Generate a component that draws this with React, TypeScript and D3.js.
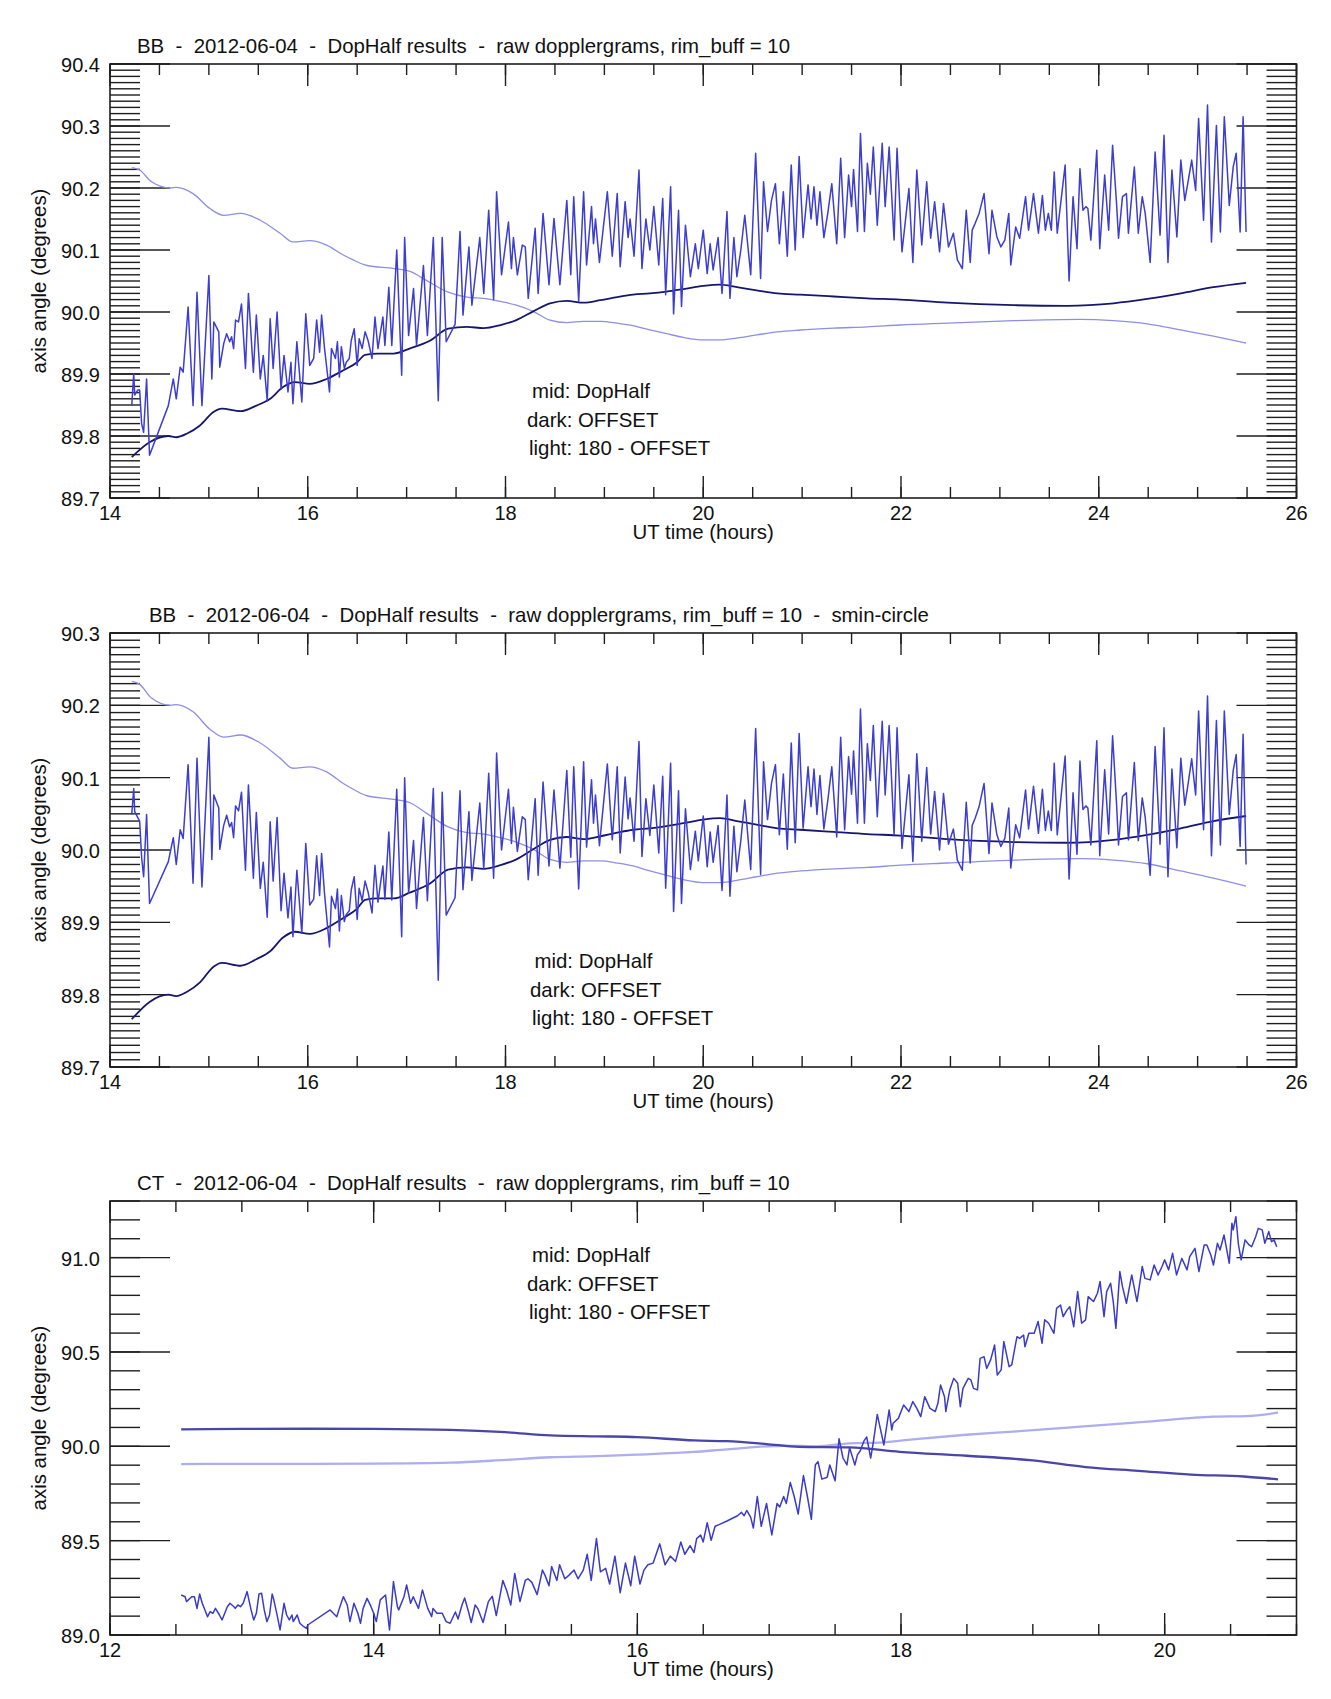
import React from 'react';
import * as d3 from 'd3';

type Pt = [number, number];

// BB, DopHalf (mid) - raw dopplergrams, rim_buff = 10
const bbMid: Pt[] = [
  [14.22, 89.849], [14.24, 89.9], [14.25, 89.866], [14.28, 89.874], [14.3, 89.874], [14.32, 89.82], [14.34, 89.806], [14.37, 89.892], [14.4, 89.769],
  [14.59, 89.849], [14.64, 89.892], [14.67, 89.86], [14.71, 89.911], [14.74, 89.903], [14.79, 90.008], [14.84, 89.849], [14.88, 90.032], [14.93, 89.849],
  [15.0, 90.059], [15.03, 89.892], [15.05, 89.984], [15.1, 89.968], [15.11, 89.911], [15.15, 89.949], [15.18, 89.965], [15.21, 89.952], [15.23, 89.96],
  [15.25, 89.941], [15.27, 89.987], [15.3, 89.984], [15.33, 90.013], [15.37, 89.909], [15.4, 90.03], [15.45, 89.903], [15.48, 89.995], [15.52, 89.892],
  [15.55, 89.93], [15.59, 89.857], [15.62, 89.989], [15.65, 89.909], [15.69, 90.0], [15.73, 89.876], [15.76, 89.93], [15.8, 89.871], [15.83, 89.919],
  [15.85, 89.852], [15.89, 89.952], [15.94, 89.855], [15.98, 89.997], [16.02, 89.914], [16.06, 89.925], [16.09, 89.987], [16.12, 89.935], [16.14, 89.995],
  [16.17, 89.941], [16.22, 89.871], [16.24, 89.941], [16.28, 89.925], [16.3, 89.952], [16.32, 89.895], [16.34, 89.944], [16.37, 89.909], [16.39, 89.919],
  [16.42, 89.925], [16.44, 89.954], [16.47, 89.973], [16.5, 89.914], [16.52, 89.957], [16.55, 89.941], [16.58, 89.968], [16.61, 89.954], [16.65, 89.925],
  [16.68, 89.992], [16.71, 89.941], [16.76, 89.992], [16.78, 89.946], [16.82, 90.04], [16.85, 89.946], [16.9, 90.1], [16.95, 89.898], [16.98, 90.12],
  [17.02, 89.962], [17.07, 90.038], [17.1, 89.946], [17.17, 90.075], [17.21, 89.962], [17.27, 90.12], [17.32, 89.857], [17.36, 90.12], [17.4, 89.952],
  [17.49, 89.98], [17.54, 90.13], [17.57, 89.995], [17.63, 90.105], [17.66, 90.011], [17.74, 90.12], [17.78, 90.03], [17.83, 90.164], [17.88, 90.02],
  [17.91, 90.194], [17.96, 90.06], [18.03, 90.145], [18.06, 90.07], [18.08, 90.12], [18.12, 90.06], [18.17, 90.108], [18.2, 90.105], [18.23, 90.022],
  [18.3, 90.135], [18.33, 90.03], [18.38, 90.159], [18.44, 90.044], [18.49, 90.151], [18.55, 90.044], [18.62, 90.18], [18.66, 90.06], [18.69, 90.186],
  [18.74, 90.017], [18.79, 90.194], [18.82, 90.076], [18.87, 90.17], [18.89, 90.11], [18.91, 90.15], [18.95, 90.08], [19.03, 90.194], [19.08, 90.09],
  [19.13, 90.191], [19.16, 90.073], [19.21, 90.178], [19.24, 90.12], [19.26, 90.15], [19.3, 90.09], [19.35, 90.229], [19.38, 90.07], [19.42, 90.15],
  [19.46, 90.1], [19.5, 90.17], [19.55, 90.076], [19.59, 90.183], [19.62, 90.028], [19.67, 90.202], [19.7, 89.997], [19.75, 90.164], [19.78, 90.009],
  [19.82, 90.14], [19.87, 90.057], [19.92, 90.11], [19.95, 90.07], [20.0, 90.132], [20.04, 90.062], [20.07, 90.11], [20.1, 90.068], [20.15, 90.12],
  [20.19, 90.03], [20.24, 90.162], [20.27, 90.022], [20.31, 90.12], [20.34, 90.057], [20.38, 90.1], [20.42, 90.156], [20.48, 90.06], [20.53, 90.256],
  [20.58, 90.054], [20.61, 90.21], [20.65, 90.13], [20.69, 90.18], [20.73, 90.207], [20.77, 90.11], [20.81, 90.194], [20.85, 90.09], [20.89, 90.237],
  [20.93, 90.1], [20.97, 90.251], [21.01, 90.12], [21.06, 90.205], [21.09, 90.15], [21.12, 90.202], [21.15, 90.14], [21.18, 90.194], [21.22, 90.12],
  [21.26, 90.16], [21.3, 90.207], [21.35, 90.11], [21.39, 90.248], [21.43, 90.12], [21.47, 90.221], [21.5, 90.17], [21.52, 90.23], [21.56, 90.13],
  [21.59, 90.288], [21.63, 90.13], [21.66, 90.24], [21.69, 90.19], [21.72, 90.266], [21.76, 90.14], [21.81, 90.272], [21.84, 90.17], [21.88, 90.266],
  [21.93, 90.116], [21.96, 90.264], [22.01, 90.097], [22.08, 90.199], [22.12, 90.08], [22.16, 90.229], [22.21, 90.108], [22.26, 90.21], [22.3, 90.119],
  [22.34, 90.178], [22.39, 90.097], [22.43, 90.175], [22.48, 90.105], [22.53, 90.127], [22.57, 90.084], [22.62, 90.07], [22.66, 90.164], [22.7, 90.08],
  [22.72, 90.132], [22.75, 90.143], [22.79, 90.159], [22.84, 90.191], [22.89, 90.094], [22.92, 90.164], [22.97, 90.121], [23.01, 90.105], [23.05, 90.116],
  [23.09, 90.159], [23.11, 90.076], [23.16, 90.137], [23.2, 90.119], [23.26, 90.186], [23.29, 90.132], [23.34, 90.191], [23.39, 90.127], [23.43, 90.188],
  [23.46, 90.132], [23.49, 90.159], [23.52, 90.132], [23.55, 90.226], [23.58, 90.127], [23.66, 90.237], [23.7, 90.05], [23.74, 90.186], [23.78, 90.102],
  [23.81, 90.231], [23.84, 90.164], [23.87, 90.17], [23.89, 90.167], [23.92, 90.116], [23.98, 90.261], [24.01, 90.102], [24.06, 90.221], [24.1, 90.132],
  [24.14, 90.269], [24.18, 90.175], [24.2, 90.119], [24.24, 90.186], [24.28, 90.191], [24.3, 90.127], [24.36, 90.234], [24.4, 90.127], [24.44, 90.186],
  [24.47, 90.159], [24.52, 90.08], [24.57, 90.258], [24.62, 90.124], [24.66, 90.285], [24.7, 90.08], [24.74, 90.229], [24.79, 90.121], [24.83, 90.245],
  [24.87, 90.18], [24.9, 90.207], [24.94, 90.245], [24.98, 90.196], [25.01, 90.312], [25.06, 90.148], [25.1, 90.334], [25.14, 90.113], [25.19, 90.301],
  [25.23, 90.129], [25.27, 90.315], [25.32, 90.172], [25.36, 90.234], [25.39, 90.256], [25.43, 90.129], [25.46, 90.315], [25.49, 90.129],
];

// BB, DopHalf (mid) - smin-circle
const bbSminMid: Pt[] = [
  [14.22, 90.049], [14.24, 90.085], [14.25, 90.053], [14.28, 90.045], [14.3, 90.04], [14.32, 89.99], [14.34, 89.963], [14.37, 90.049], [14.4, 89.926],
  [14.59, 89.984], [14.64, 90.017], [14.67, 89.98], [14.71, 90.028], [14.74, 90.016], [14.79, 90.118], [14.84, 89.954], [14.88, 90.127], [14.93, 89.949],
  [15.0, 90.156], [15.03, 89.987], [15.05, 90.076], [15.1, 90.058], [15.11, 90.001], [15.15, 90.034], [15.18, 90.048], [15.21, 90.032], [15.23, 90.038],
  [15.25, 90.017], [15.27, 90.061], [15.3, 90.054], [15.33, 90.08], [15.37, 89.972], [15.4, 90.09], [15.45, 89.961], [15.48, 90.052], [15.52, 89.947],
  [15.55, 89.983], [15.59, 89.907], [15.62, 90.039], [15.65, 89.957], [15.69, 90.045], [15.73, 89.916], [15.76, 89.968], [15.8, 89.906], [15.83, 89.949],
  [15.85, 89.88], [15.89, 89.972], [15.94, 89.885], [15.98, 90.009], [16.02, 89.924], [16.06, 89.932], [16.09, 89.992], [16.12, 89.937], [16.14, 89.995],
  [16.17, 89.939], [16.22, 89.866], [16.24, 89.936], [16.28, 89.919], [16.3, 89.946], [16.32, 89.888], [16.34, 89.937], [16.37, 89.901], [16.39, 89.911],
  [16.42, 89.916], [16.44, 89.945], [16.47, 89.963], [16.5, 89.904], [16.52, 89.947], [16.55, 89.93], [16.58, 89.957], [16.61, 89.942], [16.65, 89.913],
  [16.68, 89.979], [16.71, 89.928], [16.76, 89.978], [16.78, 89.932], [16.82, 90.025], [16.85, 89.931], [16.9, 90.084], [16.95, 89.88], [16.98, 90.1],
  [17.02, 89.94], [17.07, 90.013], [17.1, 89.919], [17.17, 90.045], [17.21, 89.93], [17.27, 90.085], [17.32, 89.82], [17.36, 90.08], [17.4, 89.91],
  [17.49, 89.934], [17.54, 90.082], [17.57, 89.945], [17.63, 90.053], [17.66, 89.958], [17.74, 90.065], [17.78, 89.974], [17.83, 90.106], [17.88, 89.961],
  [17.91, 90.134], [17.96, 90.0], [18.03, 90.084], [18.06, 90.009], [18.08, 90.059], [18.12, 89.998], [18.17, 90.046], [18.2, 90.042], [18.23, 89.959],
  [18.3, 90.071], [18.33, 89.965], [18.38, 90.094], [18.44, 89.978], [18.49, 90.083], [18.55, 89.975], [18.62, 90.11], [18.66, 89.99], [18.69, 90.115],
  [18.74, 89.946], [18.79, 90.122], [18.82, 90.004], [18.87, 90.097], [18.89, 90.037], [18.91, 90.076], [18.95, 90.006], [19.03, 90.119], [19.08, 90.014],
  [19.13, 90.115], [19.16, 89.996], [19.21, 90.101], [19.24, 90.043], [19.26, 90.072], [19.3, 90.012], [19.35, 90.15], [19.38, 89.991], [19.42, 90.071],
  [19.46, 90.02], [19.5, 90.09], [19.55, 89.996], [19.59, 90.102], [19.62, 89.947], [19.67, 90.12], [19.7, 89.915], [19.75, 90.082], [19.78, 89.926],
  [19.82, 90.057], [19.87, 89.973], [19.92, 90.026], [19.95, 89.985], [20.0, 90.047], [20.04, 89.977], [20.07, 90.025], [20.1, 89.983], [20.15, 90.034],
  [20.19, 89.944], [20.24, 90.076], [20.27, 89.936], [20.31, 90.033], [20.34, 89.97], [20.38, 90.013], [20.42, 90.069], [20.48, 89.973], [20.53, 90.168],
  [20.58, 89.966], [20.61, 90.122], [20.65, 90.042], [20.69, 90.092], [20.73, 90.118], [20.77, 90.021], [20.81, 90.105], [20.85, 90.001], [20.89, 90.148],
  [20.93, 90.01], [20.97, 90.161], [21.01, 90.03], [21.06, 90.115], [21.09, 90.06], [21.12, 90.112], [21.15, 90.049], [21.18, 90.103], [21.22, 90.029],
  [21.26, 90.069], [21.3, 90.115], [21.35, 90.018], [21.39, 90.156], [21.43, 90.028], [21.47, 90.129], [21.5, 90.077], [21.52, 90.137], [21.56, 90.037],
  [21.59, 90.195], [21.63, 90.037], [21.66, 90.147], [21.69, 90.096], [21.72, 90.172], [21.76, 90.046], [21.81, 90.178], [21.84, 90.076], [21.88, 90.172],
  [21.93, 90.021], [21.96, 90.169], [22.01, 90.002], [22.08, 90.104], [22.12, 89.984], [22.16, 90.133], [22.21, 90.012], [22.26, 90.114], [22.3, 90.022],
  [22.34, 90.081], [22.39, 90.0], [22.43, 90.078], [22.48, 90.008], [22.53, 90.029], [22.57, 89.986], [22.62, 89.972], [22.66, 90.066], [22.7, 89.982],
  [22.72, 90.034], [22.75, 90.044], [22.79, 90.06], [22.84, 90.092], [22.89, 89.995], [22.92, 90.065], [22.97, 90.021], [23.01, 90.005], [23.05, 90.016],
  [23.09, 90.058], [23.11, 89.975], [23.16, 90.035], [23.2, 90.017], [23.26, 90.083], [23.29, 90.029], [23.34, 90.088], [23.39, 90.023], [23.43, 90.084],
  [23.46, 90.027], [23.49, 90.054], [23.52, 90.027], [23.55, 90.12], [23.58, 90.021], [23.66, 90.13], [23.7, 89.96], [23.74, 90.079], [23.78, 89.994],
  [23.81, 90.123], [23.84, 90.056], [23.87, 90.061], [23.89, 90.058], [23.92, 90.007], [23.98, 90.151], [24.01, 89.992], [24.06, 90.111], [24.1, 90.022],
  [24.14, 90.158], [24.18, 90.064], [24.2, 90.007], [24.24, 90.074], [24.28, 90.079], [24.3, 90.014], [24.36, 90.121], [24.4, 90.013], [24.44, 90.072],
  [24.47, 90.045], [24.52, 89.965], [24.57, 90.143], [24.62, 90.008], [24.66, 90.169], [24.7, 89.963], [24.74, 90.112], [24.79, 90.003], [24.83, 90.127],
  [24.87, 90.062], [24.9, 90.088], [24.94, 90.126], [24.98, 90.076], [25.01, 90.192], [25.06, 90.028], [25.1, 90.213], [25.14, 89.992], [25.19, 90.179],
  [25.23, 90.007], [25.27, 90.192], [25.32, 90.049], [25.36, 90.11], [25.39, 90.132], [25.43, 90.005], [25.46, 90.16], [25.49, 89.98],
];

// BB OFFSET (dark) and 180 - OFFSET (light)
const bbOffset: Pt[] = [
  [14.22, 89.766], [14.4, 89.79], [14.59, 89.8], [14.67, 89.798], [14.78, 89.804], [14.91, 89.817], [15.05, 89.839], [15.13, 89.844], [15.32, 89.84],
  [15.48, 89.849], [15.62, 89.86], [15.75, 89.879], [15.87, 89.887], [16.02, 89.884], [16.19, 89.892], [16.36, 89.906], [16.5, 89.919], [16.58, 89.931],
  [16.71, 89.933], [16.87, 89.933], [17.03, 89.941], [17.24, 89.954], [17.42, 89.973], [17.61, 89.976], [17.78, 89.974], [17.95, 89.979], [18.11, 89.987],
  [18.28, 90.001], [18.45, 90.014], [18.62, 90.018], [18.79, 90.015], [18.96, 90.019], [19.13, 90.024], [19.29, 90.028], [19.46, 90.03], [19.63, 90.033],
  [19.8, 90.037], [20.0, 90.042], [20.17, 90.044], [20.34, 90.04], [20.54, 90.035], [20.75, 90.03], [20.98, 90.028], [21.32, 90.025], [21.66, 90.022],
  [21.99, 90.02], [22.47, 90.015], [23.14, 90.011], [23.68, 90.01], [24.15, 90.014], [24.49, 90.021], [24.83, 90.03], [25.16, 90.04], [25.49, 90.047],
];

const bbOffsetMirror: Pt[] = [
  [14.22, 90.233], [14.3, 90.229], [14.42, 90.21], [14.61, 90.2], [14.67, 90.201], [14.84, 90.191], [15.01, 90.167], [15.15, 90.156], [15.32, 90.159],
  [15.52, 90.148], [15.72, 90.127], [15.85, 90.113], [16.02, 90.115], [16.19, 90.108], [16.36, 90.092], [16.46, 90.084], [16.6, 90.075], [16.87, 90.07],
  [17.04, 90.065], [17.2, 90.051], [17.42, 90.032], [17.61, 90.024], [17.78, 90.022], [17.95, 90.017], [18.11, 90.011], [18.28, 90.001], [18.45, 89.987],
  [18.62, 89.983], [18.79, 89.985], [18.96, 89.985], [19.13, 89.982], [19.29, 89.978], [19.46, 89.971], [19.63, 89.965], [19.8, 89.959], [20.0, 89.955],
  [20.17, 89.955], [20.34, 89.958], [20.54, 89.963], [20.75, 89.968], [20.98, 89.971], [21.32, 89.974], [21.66, 89.976], [21.99, 89.979], [22.47, 89.982],
  [23.14, 89.986], [23.81, 89.988], [24.15, 89.986], [24.49, 89.981], [24.83, 89.971], [25.16, 89.961], [25.49, 89.95],
];

// CT, DopHalf (mid)
const ctMid: Pt[] = [
  [12.54, 89.212], [12.57, 89.203], [12.58, 89.177], [12.62, 89.203], [12.64, 89.203], [12.66, 89.141], [12.68, 89.217], [12.7, 89.168], [12.74, 89.097],
  [12.76, 89.124], [12.78, 89.115], [12.8, 89.141], [12.83, 89.106], [12.85, 89.08], [12.89, 89.15], [12.91, 89.168], [12.94, 89.15], [12.95, 89.141],
  [12.97, 89.159], [12.99, 89.15], [13.01, 89.168], [13.04, 89.23], [13.07, 89.133], [13.09, 89.08], [13.11, 89.115], [13.13, 89.217], [13.15, 89.221],
  [13.17, 89.133], [13.19, 89.071], [13.21, 89.106], [13.23, 89.217], [13.24, 89.194], [13.27, 89.097], [13.29, 89.027], [13.32, 89.168], [13.34, 89.106],
  [13.36, 89.08], [13.38, 89.106], [13.39, 89.071], [13.42, 89.106], [13.44, 89.062], [13.47, 89.044], [13.49, 89.035], [13.5, 89.053], [13.67, 89.133],
  [13.72, 89.097], [13.74, 89.141], [13.77, 89.203], [13.8, 89.159], [13.82, 89.071], [13.85, 89.168], [13.88, 89.115], [13.9, 89.062], [13.92, 89.141],
  [13.95, 89.194], [13.98, 89.15], [14.0, 89.115], [14.02, 89.071], [14.05, 89.186], [14.09, 89.212], [14.12, 89.027], [14.15, 89.283], [14.18, 89.15],
  [14.19, 89.133], [14.23, 89.203], [14.25, 89.265], [14.28, 89.168], [14.3, 89.203], [14.34, 89.141], [14.37, 89.239], [14.41, 89.141], [14.44, 89.097],
  [14.45, 89.141], [14.48, 89.115], [14.52, 89.115], [14.55, 89.071], [14.58, 89.062], [14.62, 89.122], [14.64, 89.085], [14.67, 89.159], [14.69, 89.196],
  [14.72, 89.122], [14.74, 89.066], [14.77, 89.159], [14.79, 89.14], [14.83, 89.066], [14.87, 89.177], [14.9, 89.205], [14.93, 89.103], [14.98, 89.289],
  [15.01, 89.233], [15.04, 89.159], [15.07, 89.326], [15.11, 89.177], [15.15, 89.289], [15.17, 89.298], [15.2, 89.279], [15.24, 89.214], [15.28, 89.344],
  [15.3, 89.316], [15.33, 89.261], [15.35, 89.363], [15.39, 89.289], [15.41, 89.372], [15.45, 89.298], [15.48, 89.316], [15.52, 89.344], [15.55, 89.298],
  [15.59, 89.344], [15.62, 89.428], [15.65, 89.289], [15.69, 89.511], [15.72, 89.335], [15.76, 89.353], [15.79, 89.27], [15.83, 89.418], [15.87, 89.224],
  [15.91, 89.381], [15.95, 89.261], [15.98, 89.418], [16.02, 89.27], [16.05, 89.344], [16.08, 89.372], [16.12, 89.381], [16.17, 89.483], [16.21, 89.372],
  [16.25, 89.418], [16.29, 89.39], [16.33, 89.493], [16.36, 89.428], [16.4, 89.474], [16.43, 89.437], [16.45, 89.511], [16.48, 89.53], [16.5, 89.493],
  [16.53, 89.595], [16.56, 89.502], [16.59, 89.576], [16.62, 89.585], [16.68, 89.604], [16.76, 89.632], [16.79, 89.65], [16.81, 89.632], [16.83, 89.66],
  [16.86, 89.623], [16.88, 89.567], [16.91, 89.734], [16.94, 89.576], [16.98, 89.697], [17.02, 89.53], [17.06, 89.697], [17.08, 89.678], [17.11, 89.734],
  [17.13, 89.697], [17.16, 89.808], [17.19, 89.734], [17.22, 89.641], [17.26, 89.845], [17.29, 89.734], [17.32, 89.613], [17.35, 89.901], [17.37, 89.919],
  [17.4, 89.826], [17.44, 89.836], [17.46, 89.901], [17.5, 89.817], [17.53, 90.04], [17.56, 89.938], [17.59, 89.901], [17.61, 89.993], [17.65, 89.901],
  [17.67, 89.956], [17.69, 89.975], [17.72, 90.03], [17.74, 90.049], [17.77, 89.938], [17.79, 90.021], [17.82, 90.169], [17.84, 90.104], [17.87, 90.007],
  [17.91, 90.193], [17.93, 90.087], [17.94, 90.122], [17.98, 90.148], [18.02, 90.219], [18.06, 90.184], [18.09, 90.237], [18.12, 90.201], [18.15, 90.157],
  [18.18, 90.263], [18.22, 90.201], [18.26, 90.184], [18.28, 90.228], [18.3, 90.325], [18.33, 90.263], [18.34, 90.184], [18.37, 90.299], [18.4, 90.36],
  [18.43, 90.334], [18.45, 90.21], [18.47, 90.307], [18.51, 90.36], [18.53, 90.352], [18.55, 90.307], [18.58, 90.299], [18.6, 90.466], [18.63, 90.475],
  [18.65, 90.413], [18.68, 90.458], [18.71, 90.537], [18.73, 90.378], [18.76, 90.405], [18.78, 90.555], [18.82, 90.422], [18.84, 90.431], [18.87, 90.546],
  [18.88, 90.581], [18.9, 90.572], [18.93, 90.59], [18.94, 90.528], [18.97, 90.599], [19.01, 90.599], [19.04, 90.661], [19.07, 90.546], [19.09, 90.67],
  [19.12, 90.652], [19.16, 90.599], [19.18, 90.731], [19.21, 90.749], [19.23, 90.687], [19.26, 90.723], [19.28, 90.74], [19.31, 90.634], [19.34, 90.82],
  [19.37, 90.652], [19.4, 90.67], [19.42, 90.793], [19.46, 90.767], [19.49, 90.811], [19.51, 90.873], [19.54, 90.687], [19.56, 90.82], [19.59, 90.864],
  [19.61, 90.767], [19.63, 90.625], [19.66, 90.926], [19.68, 90.846], [19.71, 90.758], [19.75, 90.908], [19.79, 90.767], [19.83, 90.953], [19.85, 90.89],
  [19.89, 90.882], [19.92, 90.961], [19.95, 90.908], [19.98, 90.953], [20.0, 90.988], [20.03, 90.935], [20.06, 91.023], [20.09, 90.908], [20.13, 90.996],
  [20.17, 90.935], [20.19, 91.005], [20.23, 91.049], [20.26, 90.926], [20.3, 91.067], [20.32, 91.067], [20.35, 91.014], [20.37, 90.961], [20.4, 91.076],
  [20.42, 91.04], [20.45, 91.12], [20.49, 90.97], [20.51, 91.182], [20.52, 91.147], [20.54, 91.217], [20.56, 91.067], [20.58, 90.988], [20.61, 91.094],
  [20.64, 91.067], [20.66, 91.058], [20.69, 91.111], [20.71, 91.155], [20.74, 91.147], [20.76, 91.076], [20.79, 91.138], [20.81, 91.085], [20.83, 91.094],
  [20.85, 91.058],
];

// CT OFFSET (dark) and 180 - OFFSET (light)
const ctOffset: Pt[] = [
  [12.54, 90.09], [13.0, 90.092], [13.5, 90.093], [14.0, 90.092], [14.58, 90.087], [15.0, 90.075], [15.34, 90.058], [15.7, 90.053], [16.0, 90.049],
  [16.43, 90.031], [16.68, 90.027], [16.98, 90.012], [17.23, 89.997], [17.61, 89.994], [17.99, 89.971], [18.5, 89.95], [19.0, 89.925], [19.4, 89.89],
  [19.8, 89.87], [20.2, 89.85], [20.6, 89.84], [20.86, 89.825],
];

const ctOffsetMirror: Pt[] = [
  [12.54, 89.906], [13.0, 89.907], [13.5, 89.907], [14.0, 89.908], [14.58, 89.913], [15.0, 89.928], [15.34, 89.942], [15.7, 89.948], [16.0, 89.956],
  [16.43, 89.97], [16.68, 89.984], [17.11, 90.003], [17.36, 90.0], [17.61, 90.016], [17.84, 90.02], [18.09, 90.037], [18.47, 90.06], [18.85, 90.078],
  [19.36, 90.104], [19.87, 90.131], [20.37, 90.157], [20.62, 90.16], [20.86, 90.178],
];

const legendLines = ['mid: DopHalf', 'dark: OFFSET', 'light: 180 - OFFSET'];

const titleBB = 'BB  -  2012-06-04  -  DopHalf results  -  raw dopplergrams, rim_buff = 10';
const titleBBSmin = 'BB  -  2012-06-04  -  DopHalf results  -  raw dopplergrams, rim_buff = 10  -  smin-circle';
const titleCT = 'CT  -  2012-06-04  -  DopHalf results  -  raw dopplergrams, rim_buff = 10';

const FONT = '"Liberation Sans", Arial, Helvetica, sans-serif';
const FS = 20.4; // titles, legend, axis names
const FS_TICK = 20;
const LEFT = 110;
const RIGHT = 1296.5;
const PH = 434;
const AXIS = '#1e1e1e';

interface LineStyle {
  color: string;
  width: number;
}

interface PanelProps {
  top: number;
  title: string;
  titleX: number;
  xDomain: [number, number];
  yDomain: [number, number];
  yMajor: number;
  yMinor: number;
  mid: Pt[];
  dark: Pt[];
  light: Pt[];
  midStyle: LineStyle;
  darkStyle: LineStyle;
  lightStyle: LineStyle;
  legendX: number[];
  legendY: number;
}

// ticks from lo to hi at a fixed step, without float drift
const steps = (lo: number, hi: number, step: number) => {
  const n = Math.floor((hi - lo) / step + 1e-6);
  return d3.range(n + 1).map((i) => +(lo + i * step).toFixed(6));
};

const Panel: React.FC<PanelProps> = (p) => {
  const bottom = p.top + PH;
  const x = d3.scaleLinear().domain(p.xDomain).range([LEFT, RIGHT]);
  const y = d3.scaleLinear().domain(p.yDomain).range([bottom, p.top]);

  const raw = d3.line<Pt>().x((d) => x(d[0])).y((d) => y(d[1]));
  const smooth = d3
    .line<Pt>()
    .x((d) => x(d[0]))
    .y((d) => y(d[1]))
    .curve(d3.curveMonotoneX);

  const xMajor = steps(p.xDomain[0], p.xDomain[1], 2);
  const xMinor = steps(p.xDomain[0], p.xDomain[1], 0.5);
  const yMajor = steps(p.yDomain[0], p.yDomain[1], p.yMajor);
  const yMinor = steps(p.yDomain[0], p.yDomain[1], p.yMinor);
  const fmt = d3.format('.1f');

  return (
    <g>
      <text x={p.titleX} y={p.top - 11} fontSize={FS} style={{ whiteSpace: 'pre' }} xmlSpace="preserve">
        {p.title}
      </text>

      {/* x ticks, bottom and top */}
      {xMinor.map((t) => (
        <g key={'xm' + t} stroke={AXIS} strokeWidth={1.4}>
          <line x1={x(t)} x2={x(t)} y1={bottom} y2={bottom - 11} />
          <line x1={x(t)} x2={x(t)} y1={p.top} y2={p.top + 11} />
        </g>
      ))}
      {xMajor.map((t) => (
        <g key={'xM' + t}>
          <line x1={x(t)} x2={x(t)} y1={bottom} y2={bottom - 22} stroke={AXIS} strokeWidth={1.4} />
          <line x1={x(t)} x2={x(t)} y1={p.top} y2={p.top + 22} stroke={AXIS} strokeWidth={1.4} />
          <text x={x(t)} y={bottom + 22} fontSize={FS_TICK} textAnchor="middle">
            {t}
          </text>
        </g>
      ))}

      {/* y ticks, left and right */}
      {yMinor.map((v) => (
        <g key={'ym' + v} stroke={AXIS} strokeWidth={1.4}>
          <line x1={LEFT} x2={LEFT + 30} y1={y(v)} y2={y(v)} />
          <line x1={RIGHT} x2={RIGHT - 30} y1={y(v)} y2={y(v)} />
        </g>
      ))}
      {yMajor.map((v) => (
        <g key={'yM' + v}>
          <line x1={LEFT} x2={LEFT + 60} y1={y(v)} y2={y(v)} stroke={AXIS} strokeWidth={1.4} />
          <line x1={RIGHT} x2={RIGHT - 60} y1={y(v)} y2={y(v)} stroke={AXIS} strokeWidth={1.4} />
          <text x={LEFT - 10} y={y(v) + 1} fontSize={FS_TICK} textAnchor="end" dominantBaseline="central">
            {fmt(v)}
          </text>
        </g>
      ))}

      <rect x={LEFT} y={p.top} width={RIGHT - LEFT} height={PH} fill="none" stroke={AXIS} strokeWidth={1.6} />

      <text x={(LEFT + RIGHT) / 2} y={bottom + 41} fontSize={FS} textAnchor="middle">
        UT time (hours)
      </text>
      <text transform={`translate(46, ${p.top + PH / 2}) rotate(-90)`} fontSize={FS} textAnchor="middle">
        axis angle (degrees)
      </text>

      <path d={smooth(p.light) ?? ''} fill="none" stroke={p.lightStyle.color} strokeWidth={p.lightStyle.width} />
      <path d={smooth(p.dark) ?? ''} fill="none" stroke={p.darkStyle.color} strokeWidth={p.darkStyle.width} />
      <path
        d={raw(p.mid) ?? ''}
        fill="none"
        stroke={p.midStyle.color}
        strokeWidth={p.midStyle.width}
        strokeLinejoin="round"
      />

      {legendLines.map((s, i) => (
        <text key={s} x={p.legendX[i]} y={p.legendY + i * 28.5} fontSize={FS}>
          {s}
        </text>
      ))}
    </g>
  );
};

const bbMidStyle = { color: '#3d3dd0', width: 1.5 };
const bbDarkStyle = { color: '#16166e', width: 1.8 };
const bbLightStyle = { color: '#8e8ee6', width: 1.3 };

const App: React.FC = () => (
  <svg
    width={1331}
    height={1699}
    viewBox="0 0 1331 1699"
    style={{ position: 'absolute', left: 0, top: 0, background: '#fff', fontFamily: FONT }}
    fill="#111"
  >
    <rect width={1331} height={1699} fill="#fff" />
    <Panel
      top={64}
      title={titleBB}
      titleX={137}
      xDomain={[14, 26]}
      yDomain={[89.7, 90.4]}
      yMajor={0.1}
      yMinor={0.01}
      mid={bbMid}
      dark={bbOffset}
      light={bbOffsetMirror}
      midStyle={bbMidStyle}
      darkStyle={bbDarkStyle}
      lightStyle={bbLightStyle}
      legendX={[532, 527, 529]}
      legendY={398}
    />
    <Panel
      top={633}
      title={titleBBSmin}
      titleX={149}
      xDomain={[14, 26]}
      yDomain={[89.7, 90.3]}
      yMajor={0.1}
      yMinor={0.01}
      mid={bbSminMid}
      dark={bbOffset}
      light={bbOffsetMirror}
      midStyle={bbMidStyle}
      darkStyle={bbDarkStyle}
      lightStyle={bbLightStyle}
      legendX={[534.5, 530, 532]}
      legendY={968}
    />
    <Panel
      top={1201}
      title={titleCT}
      titleX={137}
      xDomain={[12, 21]}
      yDomain={[89.0, 91.3]}
      yMajor={0.5}
      yMinor={0.1}
      mid={ctMid}
      dark={ctOffset}
      light={ctOffsetMirror}
      midStyle={{ color: '#3b3bc8', width: 1.5 }}
      darkStyle={{ color: '#4a45a8', width: 2.3 }}
      lightStyle={{ color: '#adadf0', width: 2.3 }}
      legendX={[532, 527, 529]}
      legendY={1262}
    />
  </svg>
);

export default App;
